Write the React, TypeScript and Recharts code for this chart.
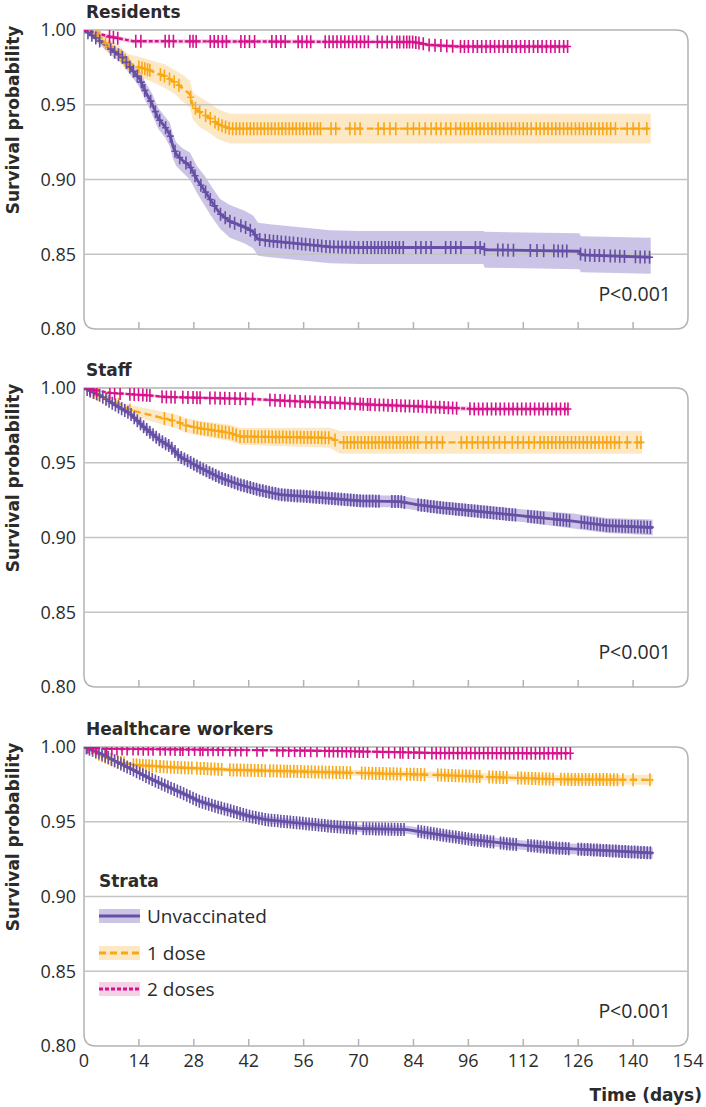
import React from 'react';
import {
  ComposedChart,
  XAxis,
  YAxis,
  Line,
  Area,
  Scatter,
  ReferenceLine,
  ReferenceArea,
  Legend,
} from 'recharts';

// ---------- axis / labels ----------
const TICK_DAYS = [0, 14, 28, 42, 56, 70, 84, 98, 112, 126, 140, 154];
const TICK_LABELS = ['0', '14', '28', '42', '56', '70', '84', '96', '112', '126', '140', '154'];
const Y_TICKS = [0.8, 0.85, 0.9, 0.95, 1.0];
const GRID_VALUES = [0.85, 0.9, 0.95];
const PANEL_TITLES = ['Residents', 'Staff', 'Healthcare workers'];
const P_VALUES = ['P<0.001', 'P<0.001', 'P<0.001'];
const STRATA = ['Unvaccinated', '1 dose', '2 doses'];

// ---------- survival curves: [day, survival, lower CI, upper CI] ----------
type Pt = [number, number, number, number];

const residentsUnvacc: Pt[] = [
  [0, 1, 1, 1], [2.8, 0.995, 0.993, 0.997], [5.4, 0.99, 0.987, 0.993], [7.9, 0.985, 0.981, 0.989],
  [9.7, 0.982, 0.978, 0.986], [11.2, 0.977, 0.972, 0.982], [13.0, 0.971, 0.966, 0.976],
  [14.3, 0.967, 0.961, 0.973], [15.6, 0.959, 0.953, 0.965], [17.3, 0.951, 0.944, 0.958],
  [18.9, 0.941, 0.934, 0.948], [20.7, 0.935, 0.928, 0.942], [21.9, 0.93, 0.922, 0.938],
  [22.7, 0.922, 0.914, 0.93], [23.5, 0.917, 0.909, 0.925], [25.0, 0.913, 0.905, 0.921],
  [27.0, 0.909, 0.9, 0.918], [28.8, 0.9, 0.891, 0.909], [30.9, 0.892, 0.882, 0.902],
  [32.6, 0.885, 0.875, 0.895], [34.7, 0.877, 0.867, 0.887], [37.2, 0.872, 0.861, 0.883],
  [41.1, 0.868, 0.857, 0.879], [43.1, 0.865, 0.854, 0.876], [44.4, 0.86, 0.849, 0.871],
  [47.4, 0.859, 0.848, 0.87], [55.1, 0.857, 0.846, 0.868], [62.7, 0.855, 0.844, 0.866],
  [70.4, 0.8545, 0.8435, 0.8655], [101.8, 0.8545, 0.8435, 0.8655], [102.2, 0.853, 0.841, 0.865],
  [126.3, 0.852, 0.84, 0.864], [126.7, 0.8495, 0.838, 0.862], [144.5, 0.848, 0.837, 0.861],
];
const residentsOneDose: Pt[] = [
  [0, 1, 1, 1], [2.8, 0.998, 0.997, 0.999], [5.9, 0.99, 0.986, 0.994], [8.7, 0.985, 0.98, 0.99],
  [11.2, 0.978, 0.972, 0.984], [14.3, 0.975, 0.968, 0.982], [16.8, 0.973, 0.966, 0.98],
  [20.7, 0.969, 0.961, 0.977], [23.2, 0.965, 0.957, 0.973], [25.2, 0.961, 0.952, 0.97],
  [27.0, 0.957, 0.948, 0.966], [27.8, 0.949, 0.94, 0.958], [29.6, 0.945, 0.935, 0.955],
  [32.1, 0.941, 0.931, 0.951], [34.2, 0.937, 0.927, 0.947], [37.2, 0.934, 0.924, 0.944],
  [144.5, 0.934, 0.924, 0.944],
];
const residentsTwoDoses: Pt[] = [
  [0, 1, 1, 1], [3, 0.998, 0.997, 0.999], [6.6, 0.9955, 0.994, 0.997], [12.5, 0.9925, 0.991, 0.994],
  [84, 0.992, 0.9905, 0.9935], [88, 0.99, 0.9885, 0.9915], [95, 0.989, 0.9875, 0.9905],
  [123.5, 0.989, 0.9875, 0.9905],
];

const staffUnvacc: Pt[] = [
  [0, 1, 1, 1], [4.1, 0.995, 0.994, 0.996], [7.9, 0.9887, 0.987, 0.9905], [11.7, 0.983, 0.981, 0.985],
  [15.6, 0.973, 0.97, 0.976], [19.4, 0.965, 0.962, 0.968], [21.9, 0.961, 0.958, 0.964],
  [24.5, 0.954, 0.951, 0.957], [29.6, 0.9467, 0.943, 0.95], [34.7, 0.94, 0.9365, 0.9435],
  [39.8, 0.9353, 0.9318, 0.9388], [44.9, 0.9316, 0.928, 0.9352], [50, 0.9287, 0.925, 0.9324],
  [60.2, 0.9267, 0.923, 0.9305], [70.4, 0.9245, 0.9205, 0.9285], [80.6, 0.924, 0.92, 0.928],
  [84.9, 0.922, 0.918, 0.926], [90.8, 0.92, 0.916, 0.924], [103.5, 0.9167, 0.9125, 0.921],
  [113, 0.9142, 0.91, 0.9185], [124.7, 0.911, 0.906, 0.916], [133.3, 0.908, 0.903, 0.913],
  [145, 0.9067, 0.9015, 0.912],
];
const staffOneDose: Pt[] = [
  [0, 1, 1, 1], [6.6, 0.992, 0.99, 0.994], [11.7, 0.9853, 0.982, 0.9886], [16.8, 0.982, 0.978, 0.986],
  [23.5, 0.9776, 0.973, 0.9822], [26, 0.975, 0.97, 0.98], [29.6, 0.973, 0.968, 0.978],
  [37.2, 0.97, 0.9645, 0.9755], [39.8, 0.9676, 0.962, 0.9732], [62.7, 0.9667, 0.96, 0.9734],
  [65.3, 0.9636, 0.956, 0.9712], [142.3, 0.9636, 0.956, 0.9712],
];
const staffTwoDoses: Pt[] = [
  [0, 1, 1, 1], [6.6, 0.9967, 0.996, 0.9975], [16.8, 0.995, 0.994, 0.996], [20.7, 0.994, 0.993, 0.995],
  [42.3, 0.9927, 0.9915, 0.994], [55.1, 0.991, 0.9897, 0.9923], [65.3, 0.99, 0.9886, 0.9914],
  [72, 0.989, 0.9875, 0.9905], [86.4, 0.9876, 0.986, 0.9892], [99.2, 0.986, 0.9843, 0.9877],
  [123.4, 0.986, 0.9843, 0.9877],
];

const hcwUnvacc: Pt[] = [
  [0, 1, 1, 1], [4.1, 0.9958, 0.9953, 0.9963], [8.4, 0.99, 0.989, 0.991], [12.5, 0.9847, 0.9835, 0.9859],
  [16.8, 0.979, 0.9775, 0.9805], [21.2, 0.9736, 0.972, 0.9752], [25.2, 0.969, 0.9672, 0.9708],
  [29.6, 0.9635, 0.9616, 0.9654], [33.9, 0.96, 0.958, 0.962], [38, 0.9569, 0.9548, 0.959],
  [42.3, 0.9536, 0.9515, 0.9557], [46.7, 0.9513, 0.949, 0.9536], [55.1, 0.9491, 0.9467, 0.9515],
  [63.5, 0.9469, 0.9445, 0.9493], [70.4, 0.9455, 0.943, 0.948], [82.4, 0.9447, 0.942, 0.9474],
  [90.8, 0.9413, 0.9385, 0.9441], [99.2, 0.938, 0.935, 0.941], [107.9, 0.9353, 0.9322, 0.9384],
  [120.6, 0.9324, 0.929, 0.9358], [133.4, 0.9307, 0.927, 0.9344], [145, 0.9291, 0.9252, 0.933],
];
const hcwOneDose: Pt[] = [
  [0, 1, 1, 1], [4.1, 0.9947, 0.994, 0.9954], [8.4, 0.99, 0.989, 0.991], [13, 0.988, 0.9868, 0.9892],
  [21.2, 0.9866, 0.9852, 0.988], [38, 0.9847, 0.9831, 0.9863], [55, 0.9836, 0.9818, 0.9854],
  [70.4, 0.9826, 0.9806, 0.9846], [90, 0.9813, 0.9791, 0.9835], [102.8, 0.98, 0.9776, 0.9824],
  [120.6, 0.9784, 0.9757, 0.9811], [145, 0.978, 0.9745, 0.9815],
];
const hcwTwoDoses: Pt[] = [
  [0, 1, 1, 1], [5, 0.9988, 0.9984, 0.9992], [40, 0.998, 0.9975, 0.9985], [60, 0.9975, 0.997, 0.998],
  [75, 0.9968, 0.9962, 0.9974], [90, 0.996, 0.9953, 0.9967], [124, 0.9958, 0.995, 0.9966],
];

// ---------- censoring times (days) ----------
const residentsUnvaccCens = [1, 2, 3, 4, 6.8, 7.8, 8.8, 9.8, 10.8, 11.7, 12.6, 13.6, 14.6, 15.5, 17, 18.2, 19.3, 20.8, 22, 23.2, 24.4, 26, 27.2, 28.3, 29.8, 31, 32.2, 33.3, 34.8, 36, 37.2, 38.4, 40, 41.2, 42.4, 43.6, 44.8, 46.2, 47.3, 48.3, 49.3, 50.3, 51.4, 52.4, 53.4, 54.5, 55.5, 56.5, 57.6, 58.6, 59.6, 60.6, 61.7, 62.7, 63.7, 64.8, 65.8, 66.8, 67.9, 68.9, 70, 71.2, 72.2, 73.2, 74.1, 75, 75.9, 76.8, 77.7, 78.6, 79.5, 80.4, 81.4, 84.6, 85.9, 87.2, 88.5, 92.2, 93.5, 94.8, 96.1, 99.8, 101, 102.1, 105.5, 106.8, 108.1, 109.5, 113.8, 115.5, 117.2, 119.8, 120.9, 122, 123.1, 126.6, 127.8, 129, 130.2, 131.4, 132.6, 134.2, 135.4, 136.6, 137.8, 140.6, 141.8, 143, 144.2];
const residentsOneDoseCens = [3, 3.5, 4, 5.5, 6.5, 9.5, 10.5, 11.2, 14, 14.8, 15.5, 16.2, 16.8, 19.5, 20.5, 21.8, 23, 24.2, 27.2, 28.4, 29.5, 31, 32.2, 33.4, 34.3, 35.2, 36.1, 37, 37.9, 38.8, 39.7, 40.6, 41.5, 42.4, 43.3, 44.2, 45.1, 46, 46.9, 47.8, 48.7, 49.6, 50.5, 51.4, 52.3, 53.2, 54.1, 55, 55.9, 56.8, 57.7, 58.6, 59.5, 60.3, 63, 64.2, 67.8, 69.1, 70.4, 75, 76.5, 78, 79.5, 82.5, 84, 85.5, 87, 88.5, 89.8, 91, 92.3, 93.5, 94.8, 96, 97, 98, 99, 100, 101, 102, 103, 104, 105, 106, 107, 108, 109, 110, 111, 112, 113, 114, 115.3, 116.3, 117.3, 118.3, 119.3, 120.3, 121.3, 122.3, 123.3, 124.3, 125.3, 126.3, 127.3, 128.3, 129.3, 130.3, 131.3, 132.3, 133.3, 134.3, 135.5, 138.5, 140, 141.5, 143.5];
const residentsTwoDosesCens = [6.5, 7.5, 8.6, 13.2, 14.5, 20.7, 21.7, 22.8, 27, 27.8, 28.6, 32.2, 33.2, 34.2, 35.3, 36.3, 40, 41, 42.2, 43.5, 47.9, 49, 50.2, 51.3, 54.6, 55.6, 56.8, 57.8, 61.5, 62.5, 63.5, 64.5, 65.5, 66.5, 67.5, 68.5, 69.5, 70.5, 71.5, 72.5, 74.8, 76, 77.3, 78.5, 79.8, 80.5, 81.5, 82.3, 83, 83.8, 84.6, 85.4, 86.5, 88, 89.5, 91, 92.5, 94, 96, 97, 98, 99.2, 100.3, 101.4, 102.5, 103.6, 104.7, 105.8, 106.9, 108, 109.1, 110.2, 111.3, 112.4, 113.5, 114.6, 115.7, 116.8, 117.9, 119, 120.1, 121.2, 122.3, 123.3];

const staffUnvaccCens = [0.8, 1.6, 2.4, 3.2, 4, 4.8, 5.6, 6.4, 7.2, 8, 8.8, 9.6, 10.4, 11.2, 12, 12.8, 13.6, 14.4, 15.2, 16, 16.8, 17.6, 18.4, 19.2, 20, 20.8, 21.6, 22.4, 23.2, 24, 24.8, 25.6, 26.4, 27.2, 28, 28.8, 29.6, 30.4, 31.2, 32, 32.8, 33.6, 34.4, 35.2, 36, 36.8, 37.6, 38.4, 39.2, 40, 40.8, 41.6, 42.4, 43.2, 44, 44.8, 45.6, 46.4, 47.2, 48, 48.8, 49.6, 50.4, 51.2, 52, 52.8, 53.6, 54.4, 55.2, 56, 56.8, 57.6, 58.4, 59.2, 60, 60.8, 61.6, 62.4, 63.2, 64, 64.8, 65.6, 66.4, 67.2, 68, 68.8, 69.6, 70.4, 71.2, 72, 72.8, 73.6, 74.4, 75.2, 78.5, 79.3, 80.1, 80.9, 81.7, 85.2, 86, 86.8, 87.6, 88.4, 89.2, 90, 90.8, 91.6, 92.4, 93.2, 94, 94.8, 95.6, 96.4, 97.2, 98, 98.8, 99.6, 100.4, 101.2, 102, 102.8, 103.6, 104.4, 105.2, 106, 106.8, 107.6, 108.4, 109.2, 110, 113.2, 114, 114.8, 115.6, 116.4, 117.2, 119.8, 120.6, 121.4, 122.2, 123, 123.8, 126.8, 127.6, 128.4, 129.2, 130, 130.8, 131.6, 132.4, 133.2, 134, 134.8, 135.6, 136.4, 137.2, 138, 138.8, 139.6, 140.4, 141.2, 142, 142.8, 143.6, 144.4];
const staffOneDoseCens = [1.5, 2.5, 3.5, 5.8, 8.8, 11.7, 20.5, 22.5, 24.5, 26, 28, 28.9, 29.8, 30.7, 31.6, 32.5, 33.4, 34.3, 35.2, 36.1, 37, 37.9, 38.8, 39.8, 40.8, 41.7, 42.6, 43.5, 44.4, 45.3, 46.2, 47.1, 48, 48.9, 49.8, 50.7, 51.6, 52.5, 53.4, 54.3, 55.2, 56.1, 57, 57.9, 58.8, 59.7, 60.6, 61.5, 62.4, 64, 66.2, 67.1, 68, 68.9, 69.8, 70.7, 71.6, 72.5, 73.4, 74.3, 75.2, 76.1, 77, 77.9, 78.8, 79.7, 80.6, 81.5, 82.4, 83.3, 84.2, 85.1, 87.2, 88.6, 90, 91.4, 96.2, 97.6, 99, 100.4, 101.8, 103.1, 104.5, 105.9, 107.3, 109.2, 110.6, 112, 113.4, 114.8, 116.3, 117.3, 118.3, 119.3, 120.3, 121.3, 122.3, 123.3, 124.3, 125.3, 126.3, 127.3, 128.3, 129.3, 130.3, 131.3, 132.3, 133.3, 134.3, 135.3, 136.5, 138.5, 141, 142];
const staffTwoDosesCens = [1.5, 2.5, 3.2, 6.6, 7.8, 9.2, 11.7, 12.8, 13.9, 15, 16, 16.8, 19.9, 21, 22.2, 23.2, 25.2, 26.5, 27.8, 28.8, 29.6, 32.1, 33.4, 34.7, 35.9, 37.1, 38.5, 39.8, 41.2, 43, 47.4, 48.7, 50, 51.2, 52.5, 53.8, 55.1, 56.4, 57.6, 58.9, 60.2, 61.5, 62.8, 64, 65.3, 66.5, 67.8, 69.1, 70.4, 71.2, 72.3, 73, 74.2, 75.3, 76.4, 77.5, 78.6, 79.7, 80.8, 81.9, 83, 84.1, 85.2, 86.3, 87.4, 88.5, 89.6, 90.7, 91.8, 92.9, 94, 95, 98.4, 99.5, 100.6, 101.7, 102.8, 103.9, 105, 106.1, 107.2, 108.3, 109.4, 110.5, 111.6, 112.7, 113.8, 114.9, 116, 117.1, 118.2, 119.3, 120.4, 121.5, 122.6, 123.4];

const hcwUnvaccCens = [0.6, 1.4, 2.2, 3, 3.8, 4.6, 5.4, 6.2, 7, 7.8, 8.6, 9.4, 10.2, 11, 11.8, 12.6, 13.4, 14.2, 15, 15.8, 16.6, 17.4, 18.2, 19, 19.8, 20.6, 21.4, 22.2, 23, 23.8, 24.6, 25.4, 26.2, 27, 27.8, 28.6, 29.4, 30.2, 31, 31.8, 32.6, 33.4, 34.2, 35, 35.8, 36.6, 37.4, 38.2, 39, 39.8, 40.6, 41.4, 42.2, 43, 43.8, 44.6, 45.4, 46.2, 47, 47.8, 48.6, 49.4, 50.2, 51, 51.8, 52.6, 53.4, 54.2, 55, 55.8, 56.6, 57.4, 58.2, 59, 59.8, 60.6, 61.4, 62.2, 63, 63.8, 64.6, 65.4, 66.2, 67, 67.8, 68.6, 69.4, 71.2, 72, 72.8, 73.6, 74.4, 75.2, 76, 76.8, 77.6, 78.4, 79.2, 80, 80.8, 81.6, 85.2, 86, 86.8, 87.6, 88.4, 89.2, 90, 90.8, 91.6, 92.4, 93.2, 94, 94.8, 95.6, 96.4, 97.2, 98, 98.8, 99.6, 100.4, 101.2, 102, 102.8, 103.6, 104.4, 106.2, 107, 107.8, 108.6, 109.4, 110.2, 113.2, 114, 114.8, 115.6, 116.4, 117.2, 118, 118.8, 119.6, 120.4, 121.2, 122, 122.8, 123.6, 126, 126.8, 127.6, 128.4, 129.2, 130, 130.8, 131.6, 132.4, 133.2, 134, 134.8, 135.6, 136.4, 137.2, 138, 138.8, 139.6, 140.4, 141.2, 142, 142.8, 143.6, 144.4];
const hcwOneDoseCens = [3, 3.8, 4.6, 5.4, 6.2, 7, 7.8, 8.6, 9.4, 10.2, 12.6, 13.4, 14.2, 15, 15.8, 16.6, 17.4, 18.4, 19.4, 20.3, 21.2, 22.1, 23, 23.9, 24.8, 25.7, 26.6, 27.5, 28.8, 29.7, 30.6, 31.5, 32.4, 33.3, 34.2, 35.1, 37.2, 38.1, 39, 39.9, 40.8, 41.7, 42.6, 43.5, 44.4, 45.3, 46.2, 47.4, 48.3, 49.2, 50.1, 51, 51.8, 52.6, 53.5, 54.4, 55.3, 56.2, 57.1, 58, 58.9, 59.8, 60.7, 61.6, 62.5, 63.4, 64.3, 65.2, 66.1, 67, 67.9, 70.8, 71.7, 72.6, 73.5, 74.4, 75.3, 76.2, 77.1, 78, 78.9, 79.8, 80.7, 82.3, 83.2, 84.1, 85, 85.9, 86.8, 90.2, 91.1, 92, 92.9, 93.8, 94.7, 95.6, 96.5, 97.4, 98.3, 99.2, 100.1, 100.9, 103.3, 104.2, 105.1, 106, 106.9, 107.8, 110.6, 111.5, 112.4, 113.3, 114.2, 115.1, 116, 116.9, 117.8, 118.7, 119.6, 121.6, 122.5, 123.4, 124.3, 125.2, 126.1, 127, 127.9, 128.8, 129.7, 130.6, 131.5, 132.4, 133.3, 134.2, 135.1, 136, 137.4, 140, 144.3];
const hcwTwoDosesCens = [1, 2.1, 3.2, 5.8, 7.1, 8.4, 9.7, 11, 12.5, 13.8, 15.1, 16.4, 17.6, 19.4, 20.7, 22, 23.2, 24.5, 25.2, 26.7, 28.2, 29.6, 30.3, 31.6, 32.9, 34.2, 35.4, 37.2, 38.6, 40, 41.5, 44.1, 45.6, 49.2, 50.7, 52.2, 53.7, 55.1, 56.3, 57.8, 59.4, 61.4, 62.5, 63.6, 64.7, 65.8, 66.9, 68, 69.1, 70.2, 71.2, 72.3, 74.7, 76.2, 77.7, 79.2, 80.6, 81.3, 82.7, 84.1, 85.5, 86.9, 88.7, 89.8, 90.9, 92, 93.1, 94.2, 95.3, 96.4, 97.5, 98.6, 99.7, 100.8, 101.9, 103, 104.1, 105.2, 106.3, 107.4, 108.5, 109.6, 110.7, 111.8, 112.9, 114, 115.1, 116.2, 117.3, 118.4, 119.5, 120.6, 121.7, 122.8, 124];

// ---------- styles ----------
const FONT = "'Open Sans', 'Noto Sans', sans-serif";
const BOLD_FONT = "'DejaVu Sans', 'Liberation Sans', sans-serif";
const TEXT = '#2b2b2b';
const FRAME = '#b3b3b3';
const GRID = '#c4c4c4';
const STYLE = [
  { line: '#6650a6', band: '#8f7cc8', bandOpacity: 0.45, width: 2.8, dash: undefined as string | undefined },
  { line: '#f8a815', band: '#fbd28d', bandOpacity: 0.5, width: 2.4, dash: '7 4' },
  { line: '#d5128c', band: '#e9a3cc', bandOpacity: 0.5, width: 2.4, dash: '4 2' },
];

const PANEL_CURVES: Pt[][][] = [
  [residentsUnvacc, residentsOneDose, residentsTwoDoses],
  [staffUnvacc, staffOneDose, staffTwoDoses],
  [hcwUnvacc, hcwOneDose, hcwTwoDoses],
];
const PANEL_CENS: number[][][] = [
  [residentsUnvaccCens, residentsOneDoseCens, residentsTwoDosesCens],
  [staffUnvaccCens, staffOneDoseCens, staffTwoDosesCens],
  [hcwUnvaccCens, hcwOneDoseCens, hcwTwoDosesCens],
];

const toRows = (pts: Pt[]) => pts.map(([t, s, lo, hi]) => ({ t, s, lo, hi }));

// survival on the drawn curve at a censoring time
const survivalAt = (pts: Pt[], t: number) => {
  for (let i = 1; i < pts.length; i++) {
    const [t0, s0] = pts[i - 1];
    const [t1, s1] = pts[i];
    if (t <= t1) {
      const f = t1 === t0 ? 0 : (t - t0) / (t1 - t0);
      return s0 + (s1 - s0) * f;
    }
  }
  return pts[pts.length - 1][1];
};

const XTick = (props: any) => {
  const { x, y, payload, showLabel } = props;
  const v = payload.value;
  const idx = TICK_DAYS.indexOf(v);
  const inner = v > 0 && v < 154;
  return (
    <g>
      {inner && <line x1={x} x2={x} y1={y} y2={y - 7} stroke={FRAME} strokeWidth={1.5} />}
      {showLabel && (
        <text x={x} y={y + 14} textAnchor="middle" dominantBaseline="central" fontFamily={FONT} fontSize={18} fill={TEXT}>
          {TICK_LABELS[idx]}
        </text>
      )}
    </g>
  );
};

const YLabel = (props: any) => {
  const vb = props.viewBox || { x: 0, y: 30 };
  const x = vb.x + 13;
  const y = vb.y + 90;
  return (
    <text
      x={x}
      y={y}
      transform={`rotate(-90, ${x}, ${y})`}
      textAnchor="middle"
      dominantBaseline="central"
      fontFamily={BOLD_FONT}
      fontWeight="bold"
      fontSize={17}
      fill={TEXT}
    >
      Survival probability
    </text>
  );
};

const XLabel = (props: any) => {
  const vb = props.viewBox;
  const x = vb.x + vb.width + 14;
  const y = vb.y + 49;
  return (
    <text x={x} y={y} textAnchor="end" dominantBaseline="central" fontFamily={BOLD_FONT} fontWeight="bold" fontSize={17} fill={TEXT}>
      Time (days)
    </text>
  );
};

const makeFrame = (title: string, pValue: string) => (p: any) => {
  const { x, y, width: w, height: h } = p;
  const r = 12;
  const d = `M${x},${y} H${x + w - r} Q${x + w},${y} ${x + w},${y + r} V${y + h - r} Q${x + w},${y + h} ${x + w - r},${y + h} H${x + r} Q${x},${y + h} ${x},${y + h - r} Z`;
  return (
    <g>
      <path d={d} fill="none" stroke={FRAME} strokeWidth={1.5} />
      <text x={x + 2} y={y - 18} dominantBaseline="central" fontFamily={BOLD_FONT} fontWeight="bold" fontSize={17} fill={TEXT}>
        {title}
      </text>
      <text x={x + w - 17} y={y + h - 36} textAnchor="end" dominantBaseline="central" fontFamily={FONT} fontSize={19.5} fill={TEXT}>
        {pValue}
      </text>
    </g>
  );
};

const LegendBox = () => (
  <div style={{ fontFamily: FONT, color: TEXT }}>
    <div style={{ fontFamily: BOLD_FONT, fontWeight: 'bold', fontSize: 17, lineHeight: '20px', height: 20 }}>Strata</div>
    <div style={{ height: 7 }} />
    {STRATA.map((name, i) => (
      <div key={name} style={{ display: 'flex', alignItems: 'center', height: 36.5 }}>
        <svg width={42} height={16} style={{ display: 'block' }}>
          <rect x={0} y={1} width={41} height={14} fill={STYLE[i].band} fillOpacity={STYLE[i].bandOpacity} />
          <line x1={0} x2={41} y1={8} y2={8} stroke={STYLE[i].line} strokeWidth={2.8} strokeDasharray={STYLE[i].dash} />
        </svg>
        <span style={{ fontSize: 19, marginLeft: 6, lineHeight: '22px' }}>{name}</span>
      </div>
    ))}
  </div>
);

const markShape = (color: string) => (p: any) => {
  const { cx, cy } = p;
  if (cx == null || cy == null) return <g />;
  return <path d={`M${cx - 3.5},${cy} H${cx + 3.5} M${cx},${cy - 6.5} V${cy + 6.5}`} stroke={color} strokeWidth={1.6} fill="none" />;
};

const Panel = ({ idx, height, last }: { idx: number; height: number; last: boolean }) => {
  const curves = PANEL_CURVES[idx];
  const cens = PANEL_CENS[idx];
  const rows = curves.map(toRows);
  const marks = curves.map((c, i) => cens[i].map((t) => ({ t, s: survivalAt(c, t) })));
  const xAxisHeight = height - 30 - 299;
  const order = [1, 0, 2];
  return (
    <ComposedChart width={706} height={height} margin={{ top: 30, right: 18, bottom: 0, left: 0 }}>
      <XAxis
        type="number"
        dataKey="t"
        domain={[0, 154]}
        ticks={TICK_DAYS}
        interval={0}
        allowDataOverflow
        axisLine={false}
        tickLine={false}
        tickSize={0}
        tickMargin={0}
        height={xAxisHeight}
        tick={(p: any) => <XTick {...p} showLabel={last} />}
        label={last ? { content: XLabel } : undefined}
      />
      <YAxis
        type="number"
        dataKey="s"
        domain={[0.8, 1]}
        ticks={Y_TICKS}
        interval={0}
        allowDataOverflow
        width={84}
        axisLine={false}
        tickLine={false}
        tickSize={0}
        tickMargin={8}
        tick={{ fontFamily: FONT, fontSize: 18, fill: TEXT }}
        tickFormatter={(v: number) => v.toFixed(2)}
        label={{ content: YLabel }}
      />
      {GRID_VALUES.map((v) => (
        <ReferenceLine key={v} y={v} stroke={GRID} strokeWidth={1.3} />
      ))}
      <ReferenceArea
        x1={0}
        x2={154}
        y1={0.8}
        y2={1}
        shape={makeFrame(PANEL_TITLES[idx], P_VALUES[idx])}
      />
      {rows.map((r, i) => (
        <Area
          key={`band-${i}`}
          data={r}
          dataKey={(d: any) => [d.lo, d.hi]}
          type="linear"
          stroke="none"
          fill={STYLE[i].band}
          fillOpacity={STYLE[i].bandOpacity}
          isAnimationActive={false}
          legendType="none"
        />
      ))}
      {order.map((i) => (
        <Line
          key={`line-${i}`}
          data={rows[i]}
          dataKey="s"
          type="linear"
          stroke={STYLE[i].line}
          strokeWidth={STYLE[i].width}
          strokeDasharray={STYLE[i].dash}
          dot={false}
          activeDot={false}
          isAnimationActive={false}
          legendType="none"
        />
      ))}
      {order.map((i) => (
        <Scatter
          key={`cens-${i}`}
          data={marks[i]}
          dataKey="s"
          shape={markShape(STYLE[i].line)}
          isAnimationActive={false}
          legendType="none"
        />
      ))}
      {last && (
        <Legend
          layout="horizontal"
          verticalAlign="middle"
          align="center"
          wrapperStyle={{ left: 99, top: 154, width: 260, height: 140 }}
          content={() => <LegendBox />}
        />
      )}
    </ComposedChart>
  );
};

export default function App() {
  return (
    <div style={{ position: 'absolute', left: 0, top: 0, width: 706, height: 1107, background: '#fff', fontFamily: FONT }}>
      <Panel idx={0} height={358} last={false} />
      <Panel idx={1} height={359} last={false} />
      <Panel idx={2} height={390} last={true} />
    </div>
  );
}
